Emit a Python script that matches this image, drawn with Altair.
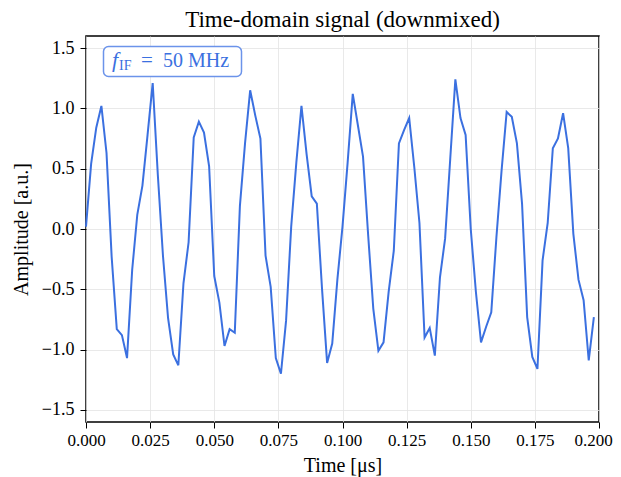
import altair as alt
import pandas as pd

# ---- data ----
sample_step_us = 0.002
amplitude = [
    0.02, 0.54, 0.84, 1.02, 0.63, -0.23, -0.83, -0.88, -1.07, -0.34,
    0.12, 0.36, 0.78, 1.21, 0.45, -0.22, -0.74, -1.04, -1.13, -0.45,
    -0.11, 0.76, 0.89, 0.80, 0.52, -0.39, -0.61, -0.97, -0.83, -0.86,
    0.19, 0.71, 1.15, 0.94, 0.75, -0.22, -0.48, -1.07, -1.20, -0.76,
    0.02, 0.55, 1.02, 0.62, 0.27, 0.21, -0.49, -1.11, -0.95, -0.42,
    0.02, 0.55, 1.12, 0.86, 0.60, -0.05, -0.66, -1.01, -0.94, -0.52,
    -0.18, 0.71, 0.82, 0.92, 0.51, 0.05, -0.90, -0.82, -1.05, -0.40,
    -0.08, 0.58, 1.24, 0.92, 0.78, 0.00, -0.52, -0.94, -0.81, -0.69,
    -0.07, 0.48, 0.97, 0.93, 0.71, 0.21, -0.73, -1.06, -1.16, -0.26,
    0.05, 0.67, 0.75, 0.96, 0.67, -0.04, -0.42, -0.59, -1.09, -0.73,
]
time_us = [round(i * sample_step_us, 3) for i in range(len(amplitude))]
x_ticks = [0.0, 0.025, 0.05, 0.075, 0.1, 0.125, 0.15, 0.175, 0.2]
y_ticks = [-1.5, -1.0, -0.5, 0.0, 0.5, 1.0, 1.5]

title_text = "Time-domain signal (downmixed)"
x_title = "Time [μs]"
y_title = "Amplitude [a.u.]"

FONT = "Liberation Serif"
BLUE = "#3b70e0"
W, H = 513, 386

df = pd.DataFrame({"t": time_us, "a": amplitude})

x_enc = alt.X(
    "t:Q",
    scale=alt.Scale(domain=[0, 0.2], nice=False, zero=False),
    axis=alt.Axis(values=x_ticks, format=".3f", title=x_title,
                  labelFlush=False, labelOverlap=False,
                  labelOffset={"condition": {"test": "datum.value >= 0.2", "value": -6},
                               "value": 0},
                  titleX=W / 2, titleY=43, titleBaseline="middle",
                  titleAlign="center"),
)
y_enc = alt.Y(
    "a:Q",
    scale=alt.Scale(domain=[-1.6, 1.6], nice=False, zero=False),
    axis=alt.Axis(values=y_ticks, format=".1f", title=y_title,
                  labelFlush=False, labelOverlap=False,
                  titleX=-65, titleY=H / 2, titleBaseline="middle",
                  titleAlign="center", titleAngle=270),
)

line = alt.Chart(df).mark_line(color=BLUE, strokeWidth=2).encode(x=x_enc, y=y_enc)

# annotation box (pixel positions inside the plot area)
ann = pd.DataFrame({"k": [0]})
box = alt.Chart(ann).mark_rect(
    fill="white", stroke="#6b93ea", strokeWidth=1.5, cornerRadius=5
).encode(x=alt.value(17.5), x2=alt.value(155.5), y=alt.value(10.5), y2=alt.value(40.5))

t_f = alt.Chart(ann).mark_text(
    text="f", font=FONT, fontSize=22, fontStyle="italic", color=BLUE,
    align="left", baseline="alphabetic"
).encode(x=alt.value(26), y=alt.value(31))
t_sub = alt.Chart(ann).mark_text(
    text="IF", font=FONT, fontSize=14, color=BLUE,
    align="left", baseline="alphabetic"
).encode(x=alt.value(33), y=alt.value(34))
t_eq = alt.Chart(ann).mark_text(
    text="=", font=FONT, fontSize=21, color=BLUE,
    align="left", baseline="alphabetic"
).encode(x=alt.value(55), y=alt.value(31))
t_val = alt.Chart(ann).mark_text(
    text="50 MHz", font=FONT, fontSize=20, color=BLUE,
    align="left", baseline="alphabetic"
).encode(x=alt.value(77), y=alt.value(31))

chart = alt.layer(line, box, t_f, t_sub, t_eq, t_val).properties(
    width=W,
    height=H,
    title=alt.TitleParams(text=title_text, font=FONT, fontSize=23,
                          fontWeight="normal", color="black", offset=4),
    autosize=alt.AutoSizeParams(type="none"),
    padding={"left": 78, "top": 28, "right": 14, "bottom": 56},
).configure_view(
    stroke="black", strokeWidth=1.5
).configure_axis(
    labelFont=FONT, labelFontSize=17, labelColor="black",
    titleFont=FONT, titleFontSize=20, titleFontWeight="normal", titleColor="black",
    tickColor="black", tickSize=6, tickWidth=1, labelPadding=4,
    domain=False, grid=True, gridColor="#e3e3e3", gridWidth=0.8,
).configure_axisY(labelPadding=6, labelFontSize=18)

chart.save("out.html", embed_options={"renderer": "svg", "actions": False})
